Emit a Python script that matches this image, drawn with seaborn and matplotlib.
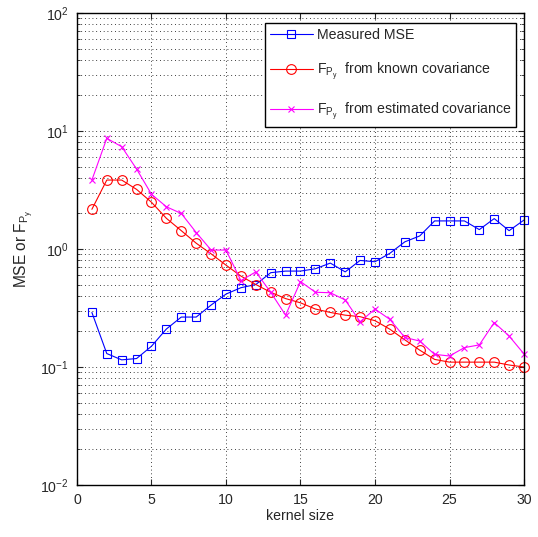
import numpy as np
import pandas as pd
import seaborn as sns
import matplotlib
matplotlib.use("Agg")
import matplotlib.pyplot as plt
from matplotlib.ticker import LogLocator, NullFormatter, MultipleLocator

kernel_size = list(range(1, 31))

measured_mse = [0.29, 0.13, 0.115, 0.118, 0.15, 0.21, 0.265, 0.265, 0.335, 0.415,
                0.47, 0.50, 0.63, 0.65, 0.65, 0.68, 0.76, 0.64, 0.80, 0.78,
                0.92, 1.15, 1.29, 1.73, 1.73, 1.73, 1.46, 1.81, 1.43, 1.76]

fpy_known = [2.17, 3.84, 3.84, 3.2, 2.49, 1.82, 1.43, 1.12, 0.91, 0.73,
             0.59, 0.50, 0.43, 0.38, 0.35, 0.31, 0.29, 0.275, 0.267, 0.247,
             0.209, 0.17, 0.139, 0.116, 0.11, 0.11, 0.11, 0.11, 0.104, 0.10]

fpy_estimated = [3.84, 8.67, 7.36, 4.76, 2.91, 2.28, 2.0, 1.38, 0.98, 0.98,
                 0.54, 0.64, 0.43, 0.275, 0.53, 0.43, 0.426, 0.37, 0.242, 0.31,
                 0.253, 0.178, 0.166, 0.128, 0.124, 0.146, 0.154, 0.238, 0.183, 0.129]

labels = ["Measured MSE",
          r"$\mathregular{F_{P_y}}$  from known covariance",
          r"$\mathregular{F_{P_y}}$  from estimated covariance"]

sns.set_style("ticks")
plt.rcParams["font.family"] = ["Liberation Sans", "DejaVu Sans"]
plt.rcParams["mathtext.fontset"] = "custom"
plt.rcParams["mathtext.rm"] = "Liberation Sans"
plt.rcParams["mathtext.it"] = "Liberation Sans"
plt.rcParams["mathtext.default"] = "regular"

FS = 10.2

fig = plt.figure(figsize=(5.38, 5.37), dpi=100)
ax = fig.add_axes([0.1431, 0.0968, 0.8309, 0.879])

df = pd.DataFrame({"k": kernel_size, "mse": measured_mse,
                   "known": fpy_known, "est": fpy_estimated})

common = dict(ax=ax, linewidth=0.8, clip_on=False, markeredgewidth=0.8)
sns.lineplot(data=df, x="k", y="mse", color="#0000ff", marker="s",
             markersize=5.5, markerfacecolor="none", markeredgecolor="#0000ff",
             label=labels[0], **common)
sns.lineplot(data=df, x="k", y="known", color="#ff0000", marker="o",
             markersize=7, markerfacecolor="none", markeredgecolor="#ff0000",
             label=labels[1], **common)
sns.lineplot(data=df, x="k", y="est", color="#ff00ff", marker="x",
             markersize=5, markeredgecolor="#ff00ff",
             label=labels[2], **common)

ax.set_yscale("log")
ax.set_xlim(0, 30)
ax.set_ylim(1e-2, 1e2)
ax.xaxis.set_major_locator(MultipleLocator(5))
ax.yaxis.set_major_locator(LogLocator(base=10, numticks=10))
ax.yaxis.set_minor_locator(LogLocator(base=10, subs=np.arange(2, 10), numticks=20))
ax.yaxis.set_minor_formatter(NullFormatter())

dots = (0, (1, 3.5))
ax.grid(True, which="major", axis="both", color="black", linestyle=dots, linewidth=0.6)
ax.grid(True, which="minor", axis="y", color="black", linestyle=dots, linewidth=0.6)

ax.tick_params(which="both", direction="in", top=True, right=True, labelsize=FS)
ax.tick_params(which="major", length=4, width=0.8, pad=6)
ax.tick_params(which="minor", length=2.5, width=0.6)
for s in ax.spines.values():
    s.set_linewidth(1.0)
    s.set_color("black")

ax.set_xlabel("kernel size", fontsize=FS, labelpad=1)
ax.set_ylabel(r"MSE or $\mathregular{F_{P_y}}$", fontsize=FS + 1, labelpad=3)

leg = ax.legend(loc="upper right", bbox_to_anchor=(0.983, 0.979), fancybox=False,
                framealpha=1, edgecolor="black", fontsize=FS, handlelength=3.0,
                borderpad=0.35, labelspacing=1.3, handletextpad=0.3, borderaxespad=0)
leg.get_frame().set_linewidth(1.0)

fig.savefig("out.png", dpi=100)
